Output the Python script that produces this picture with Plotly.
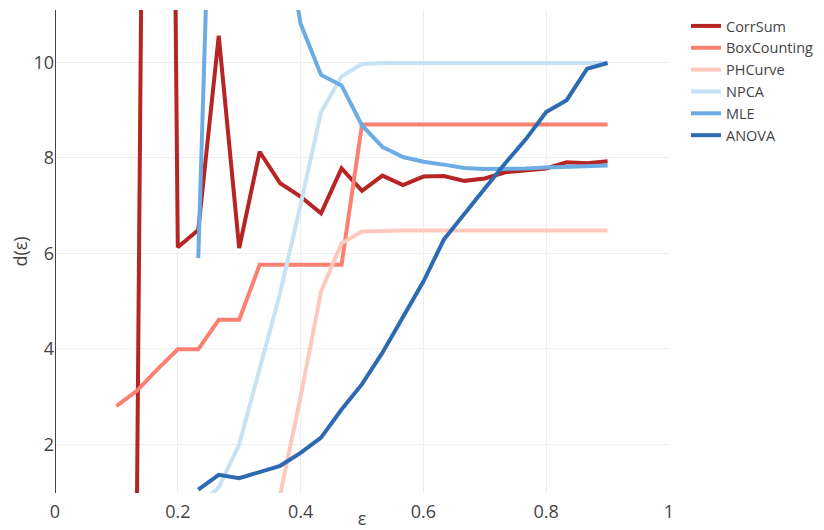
import plotly.graph_objects as go

eps = [0.1, 0.1333, 0.1667, 0.2, 0.2333, 0.2667, 0.3, 0.3333, 0.3667, 0.4,
       0.4333, 0.4667, 0.5, 0.5333, 0.5667, 0.6, 0.6333, 0.6667, 0.7, 0.7333,
       0.7667, 0.8, 0.8333, 0.8667, 0.9]

corrsum = [None, 0.5, 52.0, 6.13, 6.49, 10.56, 6.11, 8.13, 7.47, 7.19,
           6.84, 7.78, 7.31, 7.63, 7.43, 7.61, 7.62, 7.52, 7.57, 7.70,
           7.73, 7.78, 7.91, 7.89, 7.93]
boxcounting = [2.80, 3.12, 3.57, 3.99, 3.99, 4.61, 4.61, 5.76, 5.76, 5.76,
               5.76, 5.76, 8.70, 8.70, 8.70, 8.70, 8.70, 8.70, 8.70, 8.70,
               8.70, 8.70, 8.70, 8.70, 8.70]
phcurve = [None, None, None, None, None, None, None, None, 0.94, 3.0,
           5.20, 6.21, 6.46, 6.48, 6.48, 6.48, 6.48, 6.48, 6.48, 6.48,
           6.48, 6.48, 6.48, 6.48, 6.48]
npca = [None, None, None, None, 0.7, 1.1, 2.0, 3.59, 5.17, 7.02,
        8.96, 9.71, 9.97, 9.99, 9.99, 9.99, 9.99, 9.99, 9.99, 9.99,
        9.99, 9.99, 9.99, 9.99, 9.99]
mle = [None, None, None, None, 5.90, 20.0, 24.0, 17.0, 13.4, 10.81,
       9.74, 9.52, 8.68, 8.23, 8.02, 7.92, 7.86, 7.79, 7.77, 7.77,
       7.78, 7.80, 7.82, 7.83, 7.84]
anova = [None, None, None, None, 1.05, 1.36, 1.29, 1.43, 1.55, 1.82,
         2.14, 2.73, 3.26, 3.92, 4.65, 5.41, 6.29, 6.84, 7.36, 7.89,
         8.39, 8.96, 9.21, 9.87, 9.99]

series = [
    ("CorrSum", corrsum, "rgb(183,36,36)"),
    ("BoxCounting", boxcounting, "rgb(251,128,114)"),
    ("PHCurve", phcurve, "rgb(252,201,188)"),
    ("NPCA", npca, "rgb(198,226,246)"),
    ("MLE", mle, "rgb(108,172,228)"),
    ("ANOVA", anova, "rgb(45,106,178)"),
]

fig = go.Figure()
for name, vals, color in series:
    fig.add_trace(go.Scatter(x=eps, y=vals, mode="lines", name=name,
                             line=dict(color=color, width=4)))

fig.update_layout(
    template="none",
    width=816, height=522,
    margin=dict(l=47, r=155, t=2, b=37),
    paper_bgcolor="white", plot_bgcolor="white",
    font=dict(family="Open Sans, verdana, arial, sans-serif", color="#444"),
    legend=dict(font=dict(size=14.5), xref="container", yref="container",
                x=678 / 816, y=1 - 2 / 522, xanchor="left", yanchor="top"),
    xaxis=dict(range=[0, 1], dtick=0.2, tickfont=dict(size=18),
               ticklabelstandoff=6, automargin=False,
               title=dict(text="ε", font=dict(size=18), standoff=16),
               showgrid=True, gridcolor="#eee", zeroline=True,
               zerolinecolor="#444", zerolinewidth=1, ticks=""),
    yaxis=dict(range=[0.98, 11.1], dtick=2, tickfont=dict(size=18),
               automargin=False,
               title=dict(text="d(ε)", font=dict(size=18), standoff=2),
               showgrid=True, gridcolor="#eee", zeroline=False, ticks=""),
)

fig.write_html("out.html")
